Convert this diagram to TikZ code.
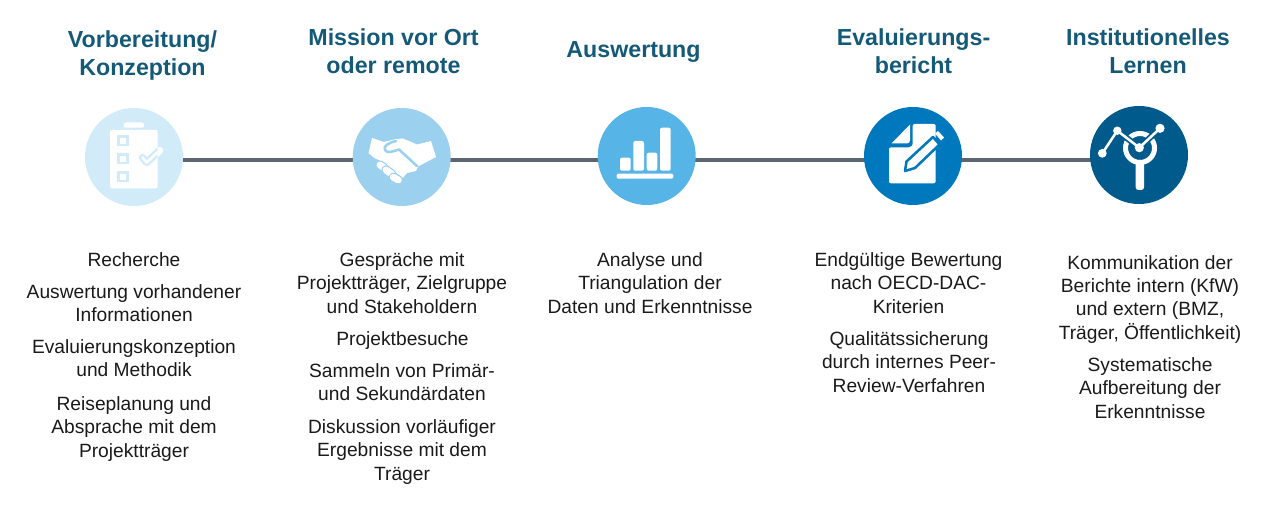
\documentclass[tikz,border=0pt]{standalone}
\usepackage{fontspec}
\setmainfont{Liberation Sans}
\usetikzlibrary{backgrounds}
\definecolor{ca}{HTML}{D2EBF8}
\definecolor{cb}{HTML}{9BD0EE}
\definecolor{cc}{HTML}{56B4E6}
\definecolor{cd}{HTML}{0078BE}
\definecolor{ce}{HTML}{005A8C}
\definecolor{ttl}{HTML}{145A78}
\definecolor{lin}{HTML}{5B6670}
\definecolor{txt}{HTML}{1A1A1A}
\tikzset{
  x=0.75pt,y=-0.75pt,
  disc/.style={circle,minimum size=73.5pt,inner sep=0pt,draw=none},
  ttlbox/.style={anchor=base,inner sep=0pt,align=center,text=ttl,font=\fontsize{17.4pt}{21pt}\selectfont\bfseries},
  para/.style={anchor=base,inner sep=0pt,align=center,text=txt,yshift=-0.6pt,font=\fontsize{14.4pt}{17.5pt}\selectfont},
  link/.style={draw=lin,line width=3pt},
  ico/.style={fill=white,draw=none},
}
\begin{document}
\begin{tikzpicture}
\useasboundingbox (0,0) rectangle (1280,520);
\coordinate (ly) at (0,159.7);
\node[disc,fill=ca] (c1) at (134,157) {};
\node[disc,fill=cb] (c2) at (401.7,157) {};
\node[disc,fill=cc] (c3) at (646.7,156) {};
\node[disc,fill=cd] (c4) at (913,156) {};
\node[disc,fill=ce] (c5) at (1139,155) {};
\begin{scope}[on background layer]
\draw[link] (c1 |- ly) -- (c2 |- ly);
\draw[link] (c2 |- ly) -- (c3 |- ly);
\draw[link] (c3 |- ly) -- (c4 |- ly);
\draw[link] (c4 |- ly) -- (c5 |- ly);
\end{scope}
% icon 1
\fill[white,rounded corners=1.5pt] (123.3,127.7) -- (123.3,124.5) -- (125,122.3) -- (143,122.3) -- (144.3,124.5) -- (144.3,127.7) -- cycle;
\path[ico,rounded corners=1.5pt] (110,130) rectangle (157.7,188.3);
\draw[ca,line width=2.2pt,fill=white] (118.7,136.7) rectangle (127.3,145);
\draw[ca,line width=2.2pt,fill=white] (118.7,154.3) rectangle (127.3,163);
\draw[ca,line width=2.2pt,fill=white] (118.7,172.7) rectangle (127.3,181);
\draw[white,line width=5.6pt,line join=round,line cap=round] (142.5,157.5) -- (146.7,162.5) -- (159.5,150.5);
\begin{scope}
\clip (110,130) rectangle (157.7,188.3);
\draw[ca,line width=5.6pt,line join=round,line cap=round] (142.5,157.5) -- (146.7,162.5) -- (159.5,150.5);
\draw[white,line width=2pt,line join=round,line cap=round] (142.5,157.5) -- (146.7,162.5) -- (159.5,150.5);
\end{scope}
% icon 2
\path[ico,line join=round] (372,138) -- (384,142) -- (396,139) -- (403,138.5) -- (417,144.5) -- (431,141) -- (436,157) -- (418,166.5) -- (416,171) -- (407,173) -- (403,178) -- (395,172) -- (385,163) -- (380,160.7) -- (375,158.3) -- (368.5,153.3) -- cycle;
\draw[cb,line width=1.9pt,line cap=round,line join=round] (396,141) .. controls (388,143) and (383,146) .. (385,150) .. controls (387,154) and (394,151) .. (399,149.5) -- (417,166);
\foreach \a/\b/\cc/\d in {380/165/384/167.7, 386/170/391.7/174, 393.3/177.3/398.3/180}{
  \draw[cb,line width=7pt,line cap=round] (\a,\b) -- (\cc,\d);
  \draw[white,line width=5.2pt,line cap=round] (\a,\b) -- (\cc,\d);
}
% icon 3
\foreach \l/\t/\r in {620/157.7/630.7, 633.3/141/644, 646.7/152.7/657.3, 660/127.7/670.7}{
  \fill[white,rounded corners=1.5pt] (\l,\t) rectangle (\r,170.7);
}
\fill[white,rounded corners=1pt] (616.7,173.7) rectangle (673.3,178.7);
% icon 4
\path[ico,line join=round] (910,124.5) -- (910,140) .. controls (910,142) and (909,143.5) .. (907,143.5) -- (891.5,143.5) -- cycle;
\path[ico,rounded corners=1.5pt] (912.7,124) -- (935.7,124) -- (935.7,183.3) -- (889,183.3) -- (889,147.3) -- (907,147.3) .. controls (911,147.3) and (912.7,145) .. (912.7,142) -- cycle;
\draw[cd,fill=white,line width=1.9pt,line join=round] (905,171) -- (906.5,161.5) -- (933,137) -- (939.5,144.5) -- (915,168) -- cycle;
\fill[white] (935,133.5) -- (938,131) -- (944,137.5) -- (941,140.5) -- cycle;
% icon 5
\draw[white,line width=3.75pt] (1140,148) circle[radius=14.5];
\fill[white,rounded corners=2pt] (1135.7,160) rectangle (1144,190);
\draw[ce,line width=4.5pt] (1117.3,130.7) -- (1139.3,147.7) -- (1160,128.3);
\draw[white,line width=1.9pt] (1102.3,153.3) -- (1117.3,130.7) -- (1139.3,147.7) -- (1160,128.3);
\foreach \p/\q/\s in {1102.3/153.3/4.4, 1117.3/130.7/4.2, 1139.3/147.7/4.6, 1160/128.3/4.6}{
  \fill[white] (\p,\q) circle[radius=\s];
}
% titles
\node[ttlbox] (t1a) at (142.5,47.5) {Vorbereitung/};
\node[ttlbox] (t1b) at (142.5,75.5) {Konzeption};
\node[ttlbox] (t2a) at (393.5,45.5) {Mission vor Ort};
\node[ttlbox] (t2b) at (393.5,73.5) {oder remote};
\node[ttlbox] (t3) at (633.5,57.5) {Auswertung};
\node[ttlbox] (t4a) at (913.5,45.5) {Evaluierungs-};
\node[ttlbox] (t4b) at (913.5,73.5) {bericht};
\node[ttlbox] (t5a) at (1148,45.5) {Institutionelles};
\node[ttlbox] (t5b) at (1148,73.5) {Lernen};
% column 1
\node[para] (p11) at (134,266) {Recherche};
\node[para] (p12) at (134,321) {Auswertung vorhandener\\Informationen};
\node[para] (p13) at (134,376) {Evaluierungskonzeption\\und Methodik};
\node[para] (p14) at (134,456.5) {Reiseplanung und\\Absprache mit dem\\Projektträger};
% column 2
\node[para] (p21) at (402,312.5) {Gespräche mit\\Projektträger, Zielgruppe\\und Stakeholdern};
\node[para] (p22) at (402.5,344.5) {Projektbesuche};
\node[para] (p23) at (402,400) {Sammeln von Primär-\\und Sekundärdaten};
\node[para] (p24) at (402,479.5) {Diskussion vorläufiger\\Ergebnisse mit dem\\Träger};
% column 3
\node[para] (p31) at (650,312.5) {Analyse und\\Triangulation der\\Daten und Erkenntnisse};
% column 4
\node[para] (p41) at (908.5,312.5) {Endgültige Bewertung\\nach OECD-DAC-\\Kriterien};
\node[para] (p42) at (909,391.5) {Qualitätssicherung\\durch internes Peer-\\Review-Verfahren};
% column 5
\node[para] (p51) at (1150,338.5) {Kommunikation der\\Berichte intern (KfW)\\und extern (BMZ,\\Träger, Öffentlichkeit)};
\node[para] (p52) at (1150,417.5) {Systematische\\Aufbereitung der\\Erkenntnisse};
\end{tikzpicture}
\end{document}
